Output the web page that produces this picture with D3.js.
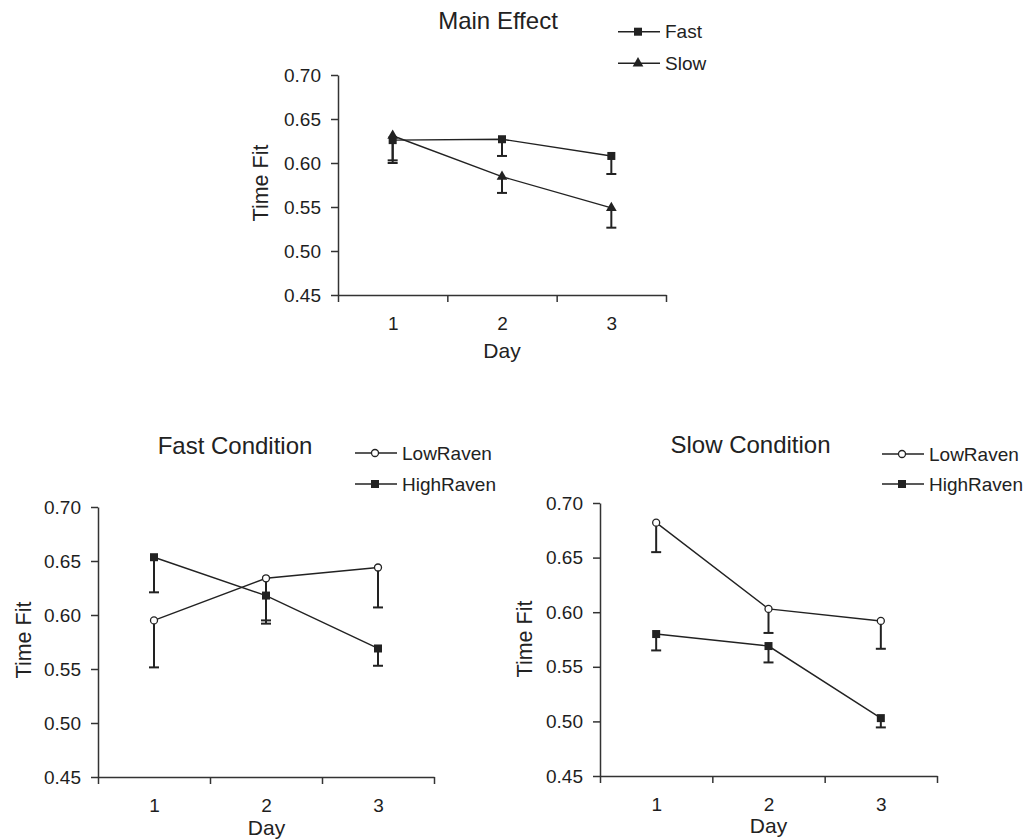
<!DOCTYPE html>
<html>
<head>
<meta charset="utf-8">
<script src="https://cdn.jsdelivr.net/npm/d3@7"></script>
<style>
  html, body { margin: 0; padding: 0; background: #fff; }
  svg { display: block; font-family: "Liberation Sans", Arial, sans-serif; }
  .axis path, .axis line { stroke: #333; stroke-width: 1.5; }
  .axis text { fill: #1e1e1e; font-size: 19px; font-family: "Liberation Sans", Arial, sans-serif; }
</style>
</head>
<body>
<svg id="chart" width="1025" height="840"></svg>
<script>
// ---- data ----
const days = [1, 2, 3];
const yTicks = [0.45, 0.50, 0.55, 0.60, 0.65, 0.70];

const mainFast    = [0.626, 0.627, 0.608];
const mainFastErr = [0.603, 0.608, 0.5875];
const mainSlow    = [0.631, 0.5845, 0.549];
const mainSlowErr = [0.600, 0.566, 0.5265];

const fastLow     = [0.595, 0.634, 0.644];
const fastLowErr  = [0.5515, 0.592, 0.607];
const fastHigh    = [0.6535, 0.618, 0.569];
const fastHighErr = [0.621, 0.595, 0.553];

const slowLow     = [0.682, 0.603, 0.592];
const slowLowErr  = [0.655, 0.581, 0.5665];
const slowHigh    = [0.580, 0.569, 0.503];
const slowHighErr = [0.565, 0.554, 0.4945];

const svg = d3.select("#chart");
const ink = "#222";

function marker(g, type, x, y) {
  if (type === "square") {
    g.append("rect").attr("x", x - 4).attr("y", y - 4).attr("width", 8).attr("height", 8).attr("fill", ink);
  } else if (type === "triangle") {
    g.append("path").attr("d", d3.symbol(d3.symbolTriangle, 50)()).attr("transform", `translate(${x},${y})`).attr("fill", ink);
  } else {
    g.append("circle").attr("cx", x).attr("cy", y).attr("r", 3.5).attr("fill", "#fff").attr("stroke", ink).attr("stroke-width", 1.3);
  }
}

function panel(cfg) {
  const g = svg.append("g");
  const x = d3.scaleLinear().domain([0.5, 3.5]).range(cfg.xr);
  const y = d3.scaleLinear().domain([0.45, 0.70]).range(cfg.yr);

  // axes
  g.append("g").attr("class", "axis").attr("transform", `translate(${cfg.xr[0]},0)`)
    .call(d3.axisLeft(y).tickValues(yTicks).tickFormat(d3.format(".2f")).tickSize(7).tickSizeOuter(0).tickPadding(10));
  g.append("g").attr("class", "axis").attr("transform", `translate(0,${cfg.yr[0]})`)
    .call(d3.axisBottom(x).tickValues([0.5, 1.5, 2.5, 3.5]).tickFormat("").tickSize(7).tickSizeOuter(0));
  const lab = g.append("g").attr("class", "axis").attr("transform", `translate(0,${cfg.yr[0]})`)
    .call(d3.axisBottom(x).tickValues(days).tickFormat(d3.format("d")).tickSize(0).tickPadding(22));
  lab.select(".domain").remove();

  // series
  cfg.series.forEach(s => {
    const pts = days.map((d, i) => [x(d), y(s.vals[i])]);
    g.append("path").attr("d", d3.line()(pts)).attr("fill", "none").attr("stroke", ink).attr("stroke-width", 1.4);
    days.forEach((d, i) => {
      const yy = y(s.err[i]);
      g.append("line").attr("x1", x(d)).attr("x2", x(d)).attr("y1", y(s.vals[i])).attr("y2", yy)
        .attr("stroke", ink).attr("stroke-width", 2);
      g.append("line").attr("x1", x(d) - 5).attr("x2", x(d) + 5).attr("y1", yy).attr("y2", yy)
        .attr("stroke", ink).attr("stroke-width", 2);
    });
  });
  cfg.series.forEach(s => {
    days.forEach((d, i) => marker(g, s.marker, x(d), y(s.vals[i])));
  });

  // titles
  g.append("text").attr("x", cfg.title[0]).attr("y", cfg.title[1]).attr("text-anchor", "middle")
    .attr("font-size", 24).attr("fill", ink).text(cfg.titleText);
  g.append("text").attr("transform", `translate(${cfg.ylab[0]},${cfg.ylab[1]}) rotate(-90)`)
    .attr("text-anchor", "middle").attr("font-size", 21.5).attr("fill", ink).text("Time Fit");
  g.append("text").attr("x", cfg.xlab[0]).attr("y", cfg.xlab[1]).attr("text-anchor", "middle")
    .attr("font-size", 21).attr("fill", ink).text("Day");

  // legend
  cfg.series.forEach((s, i) => {
    const ly = cfg.leg[1] + i * cfg.leg[2];
    const lx = cfg.leg[0];
    g.append("line").attr("x1", lx).attr("x2", lx + 42).attr("y1", ly).attr("y2", ly).attr("stroke", ink).attr("stroke-width", 1.4);
    marker(g, s.marker, lx + 20, ly);
    g.append("text").attr("x", lx + 47).attr("y", ly).attr("dy", "0.35em").attr("font-size", 19).attr("fill", ink).text(s.name);
  });
}

panel({
  xr: [338, 666], yr: [295, 75],
  titleText: "Main Effect", title: [498, 29],
  ylab: [268, 183], xlab: [502, 358],
  leg: [618, 31.7, 31.6],
  series: [
    { name: "Fast", vals: mainFast, err: mainFastErr, marker: "square" },
    { name: "Slow", vals: mainSlow, err: mainSlowErr, marker: "triangle" }
  ]
});

panel({
  xr: [98, 434], yr: [777, 507],
  titleText: "Fast Condition", title: [235, 454],
  ylab: [30.5, 640], xlab: [266.5, 835],
  leg: [355, 453, 31],
  series: [
    { name: "LowRaven", vals: fastLow, err: fastLowErr, marker: "circle" },
    { name: "HighRaven", vals: fastHigh, err: fastHighErr, marker: "square" }
  ]
});

panel({
  xr: [600, 937], yr: [776, 503],
  titleText: "Slow Condition", title: [750.5, 453],
  ylab: [531.5, 639], xlab: [768.5, 833],
  leg: [882, 454, 30],
  series: [
    { name: "LowRaven", vals: slowLow, err: slowLowErr, marker: "circle" },
    { name: "HighRaven", vals: slowHigh, err: slowHighErr, marker: "square" }
  ]
});
</script>
</body>
</html>
